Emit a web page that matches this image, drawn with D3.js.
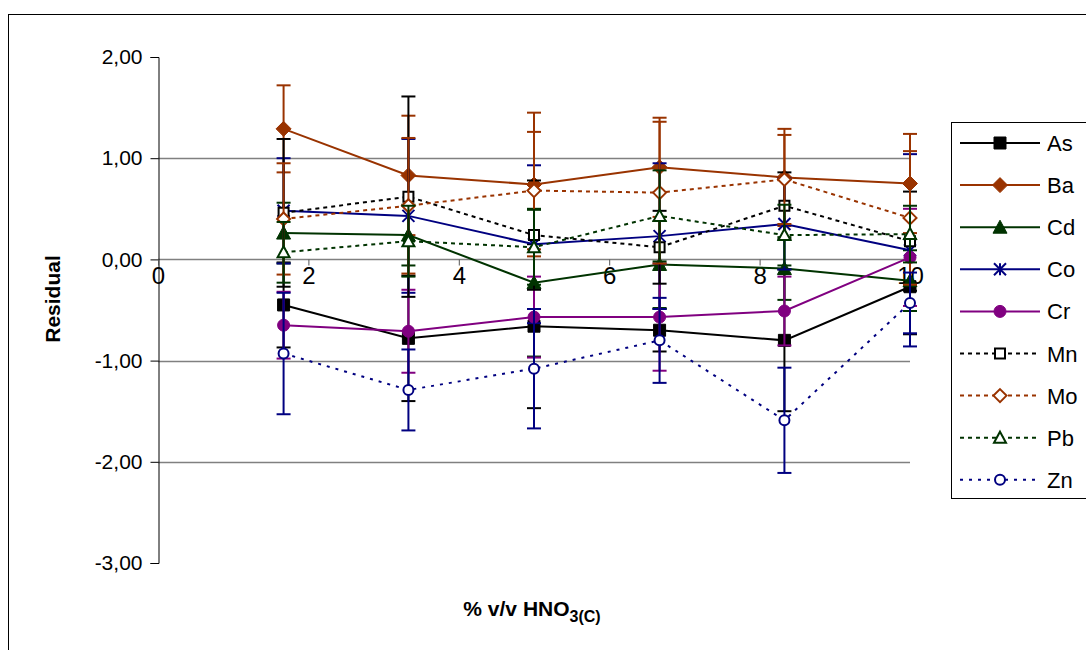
<!DOCTYPE html>
<html>
<head>
<meta charset="utf-8">
<script src="https://cdn.jsdelivr.net/npm/d3@7"></script>
<style>
body { margin: 0; background: #fff; }
text { font-family: "Liberation Sans", Arial, sans-serif; }
</style>
</head>
<body>
<div id="chart"></div>
<script>
// concentration points (% v/v HNO3)
var xVals = [1.67, 3.33, 5.0, 6.67, 8.33, 10];
var yTicks = [2, 1, 0, -1, -2, -3];
var xTicks = [0, 2, 4, 6, 8, 10];

var names = ["As", "Ba", "Cd", "Co", "Cr", "Mn", "Mo", "Pb", "Zn"];
var asVals = [-0.45, -0.78, -0.66, -0.70, -0.80, -0.27];
var baVals = [1.29, 0.83, 0.74, 0.91, 0.81, 0.75];
var cdVals = [0.26, 0.24, -0.23, -0.05, -0.09, -0.21];
var coVals = [0.48, 0.43, 0.15, 0.23, 0.35, 0.09];
var crVals = [-0.65, -0.71, -0.57, -0.57, -0.51, 0.02];
var mnVals = [0.46, 0.62, 0.24, 0.12, 0.53, 0.18];
var moVals = [0.40, 0.53, 0.68, 0.66, 0.79, 0.41];
var pbVals = [0.07, 0.18, 0.12, 0.43, 0.24, 0.25];
var znVals = [-0.93, -1.29, -1.08, -0.80, -1.59, -0.43];

var asErr = [0.42, 0.62, 0.81, 0.21, 0.70, 0.47];
var baErr = [0.43, 0.59, 0.71, 0.49, 0.48, 0.49];
var cdErr = [0.30, 0.30, 0.73, 0.43, 0.31, 0.30];
var coErr = [0.52, 0.76, 0.78, 0.72, 0.45, 0.95];
var crErr = [0.33, 0.41, 0.40, 0.53, 0.34, 0.48];
var mnErr = [0.73, 0.99, 0.54, 0.36, 0.33, 0.49];
var moErr = [0.55, 0.67, 0.58, 0.70, 0.44, 0.66];
var pbErr = [0.30, 0.35, 0.37, 0.45, 0.30, 0.28];
var znErr = [0.60, 0.40, 0.59, 0.42, 0.52, 0.30];

var series = [
	{name: "As", vals: asVals, err: asErr, color: "#000000", dash: null, marker: "square", fill: true},
	{name: "Ba", vals: baVals, err: baErr, color: "#993300", dash: null, marker: "diamond", fill: true},
	{name: "Cd", vals: cdVals, err: cdErr, color: "#003300", dash: null, marker: "triangle", fill: true},
	{name: "Co", vals: coVals, err: coErr, color: "#000080", dash: null, marker: "star", fill: false},
	{name: "Cr", vals: crVals, err: crErr, color: "#800080", dash: null, marker: "circle", fill: true},
	{name: "Mn", vals: mnVals, err: mnErr, color: "#000000", dash: "4,4", marker: "square", fill: false},
	{name: "Mo", vals: moVals, err: moErr, color: "#993300", dash: "4,4", marker: "diamond", fill: false},
	{name: "Pb", vals: pbVals, err: pbErr, color: "#003300", dash: "4,4", marker: "triangle", fill: false},
	{name: "Zn", vals: znVals, err: znErr, color: "#000080", dash: "3,6", marker: "circle", fill: false}
];

var width = 1086, height = 650;
var svg = d3.select("#chart").append("svg").attr("width", width).attr("height", height);

// outer chart border
svg.append("rect").attr("x", 8.5).attr("y", 14.5).attr("width", 1100).attr("height", 700)
	.style("fill", "#fff").style("stroke", "#000").style("stroke-width", 1);

var x = d3.scaleLinear().domain([0, 10]).range([158, 910]);
var y = d3.scaleLinear().domain([-3, 2]).range([563, 57]);

// gridlines
svg.selectAll(".grid").data([1, 0, -1, -2]).enter().append("line")
	.attr("class", "grid")
	.attr("x1", x(0)).attr("x2", x(10))
	.attr("y1", function(d) { return Math.round(y(d)) + 0.5; })
	.attr("y2", function(d) { return Math.round(y(d)) + 0.5; })
	.style("stroke", "#808080").style("stroke-width", 1.5);

// y axis
var fmt = function(d) { return d3.format(".2f")(d).replace(".", ",").replace("−", "-"); };
var yAxis = d3.axisLeft(y).tickValues(yTicks).tickSize(8).tickPadding(8).tickFormat(fmt);
var gy = svg.append("g").attr("transform", "translate(" + (x(0) + 0.5) + ",0)").call(yAxis);
gy.select(".domain").style("stroke", "#000");
gy.selectAll(".tick line").style("stroke", "#000");
gy.selectAll("text").style("font-size", "21px").style("fill", "#000");

// x axis along zero
var xAxis = d3.axisBottom(x).tickValues(xTicks).tickSize(6).tickPadding(1).tickFormat(d3.format("d"));
var gx = svg.append("g").attr("transform", "translate(0," + (Math.round(y(0)) + 0.5) + ")").call(xAxis);
gx.select(".domain").remove();
gx.selectAll(".tick line").style("stroke", "#555");
gx.selectAll("text").style("font-size", "24px").style("fill", "#000");

// axis titles
svg.append("text").attr("transform", "translate(60,299) rotate(-90)")
	.attr("text-anchor", "middle").style("font-size", "21px").style("font-weight", "bold")
	.text("Residual");

var xt = svg.append("text").attr("x", 532).attr("y", 616).attr("text-anchor", "middle")
	.style("font-size", "21px").style("font-weight", "bold");
xt.append("tspan").text("% v/v HNO");
xt.append("tspan").attr("dy", 6).style("font-size", "16px").text("3(C)");

function markerPath(type, size) {
	var s = size / 2;
	if (type == "square") return "M" + (-s) + "," + (-s) + "h" + size + "v" + size + "h" + (-size) + "Z";
	if (type == "diamond") return "M0," + (-s - 1.5) + "L" + (s + 1.5) + ",0L0," + (s + 1.5) + "L" + (-s - 1.5) + ",0Z";
	if (type == "triangle") return "M0," + (-s - 1) + "L" + (s + 1) + "," + (s) + "L" + (-s - 1) + "," + (s) + "Z";
	if (type == "circle") return d3.arc()({innerRadius: 0, outerRadius: s, startAngle: 0, endAngle: 2 * Math.PI});
	if (type == "star") return "M" + (-s) + "," + (-s) + "L" + s + "," + s + "M" + (-s) + "," + s + "L" + s + "," + (-s) + "M0," + (-s) + "V" + s;
}

function drawMarker(g, d) {
	var size = d.fill || d.marker == "star" ? 12 : 10;
	var p = g.append("path").attr("d", markerPath(d.marker, size));
	if (d.marker == "star") {
		p.style("fill", "none").style("stroke", d.color).style("stroke-width", 2);
	} else if (d.fill) {
		p.style("fill", d.color).style("stroke", d.color).style("stroke-width", 1);
	} else {
		p.style("fill", "#fff").style("stroke", d.color).style("stroke-width", 2);
	}
}

var line = d3.line().x(function(d) { return x(d[0]); }).y(function(d) { return y(d[1]); });

series.forEach(function(s) {
	var g = svg.append("g").attr("class", "series");
	var pts = xVals.map(function(xv, i) { return [xv, s.vals[i], s.err[i]]; });

	// error bars
	var eb = g.selectAll(".err").data(pts).enter().append("g").attr("class", "err");
	eb.append("line")
		.attr("x1", function(d) { return x(d[0]); }).attr("x2", function(d) { return x(d[0]); })
		.attr("y1", function(d) { return y(d[1] + d[2]); }).attr("y2", function(d) { return y(d[1] - d[2]); });
	eb.append("line")
		.attr("x1", function(d) { return x(d[0]) - 7; }).attr("x2", function(d) { return x(d[0]) + 7; })
		.attr("y1", function(d) { return y(d[1] + d[2]); }).attr("y2", function(d) { return y(d[1] + d[2]); });
	eb.append("line")
		.attr("x1", function(d) { return x(d[0]) - 7; }).attr("x2", function(d) { return x(d[0]) + 7; })
		.attr("y1", function(d) { return y(d[1] - d[2]); }).attr("y2", function(d) { return y(d[1] - d[2]); });
	eb.selectAll("line").style("stroke", s.color).style("stroke-width", 2);

	g.append("path").datum(pts).attr("d", line)
		.style("fill", "none").style("stroke", s.color).style("stroke-width", 2)
		.style("stroke-dasharray", s.dash);

	g.selectAll(".pt").data(pts).enter().append("g").attr("class", "pt")
		.attr("transform", function(d) { return "translate(" + x(d[0]) + "," + y(d[1]) + ")"; })
		.each(function() { drawMarker(d3.select(this), s); });
});

// legend
var leg = svg.append("g").attr("transform", "translate(951,122)");
leg.append("rect").attr("x", 0.5).attr("y", 0.5).attr("width", 200).attr("height", 376)
	.style("fill", "#fff").style("stroke", "#000").style("stroke-width", 1);
var items = leg.selectAll(".item").data(series).enter().append("g").attr("class", "item")
	.attr("transform", function(d, i) { return "translate(0," + (21 + i * 42.1) + ")"; });
items.append("line").attr("x1", 9).attr("x2", 89).attr("y1", 0).attr("y2", 0)
	.style("stroke", function(d) { return d.color; }).style("stroke-width", 2)
	.style("stroke-dasharray", function(d) { return d.dash; });
items.append("g").attr("transform", "translate(49,0)").each(function(d) { drawMarker(d3.select(this), d); });
items.append("text").attr("x", 96).attr("y", 8).style("font-size", "22px").text(function(d) { return d.name; });
</script>
</body>
</html>
